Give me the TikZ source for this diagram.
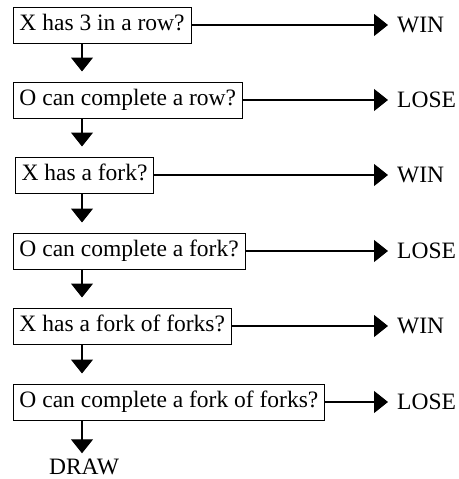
\documentclass[tikz,border=0pt]{standalone}
\usepackage{fontspec}
\setmainfont{Liberation Serif}
\usetikzlibrary{arrows.meta}
\begin{document}
\begin{tikzpicture}[x=1pt,y=-1pt,
  font=\fontsize{23.5}{28}\selectfont,
  question/.style={draw, line width=1pt, anchor=west, minimum height=36pt,
    inner xsep=6.5pt, inner ysep=0pt, text height=16pt, text depth=5pt},
  outcome/.style={anchor=west, inner xsep=9pt, inner ysep=0pt},
  flow/.style={line width=1.2pt, -{Triangle[length=14pt,width=22pt]}}
]
\useasboundingbox (0,0) rectangle (458,479);

% question boxes, left-aligned in one column
\node[question] (q1) at (12.5,25)  {X has 3 in a row?};
\node[question] (q2) at (12.5,100) {O can complete a row?};
\node[question] (q3) at (14.5,175) {X has a fork?};
\node[question] (q4) at (12.5,251) {O can complete a fork?};
\node[question] (q5) at (12.5,326) {X has a fork of forks?};
\node[question] (q6) at (12.5,402) {O can complete a fork of forks?};

% outcomes on the right
\node[outcome] (o1) at (388,25)  {WIN};
\node[outcome] (o2) at (388,100) {LOSE};
\node[outcome] (o3) at (388,175) {WIN};
\node[outcome] (o4) at (388,251) {LOSE};
\node[outcome] (o5) at (388,326) {WIN};
\node[outcome] (o6) at (388,402) {LOSE};

\node[inner sep=0pt, text height=16pt, text depth=5pt] (draw) at (84,469) {DRAW};

% yes-branches
\foreach \i in {1,...,6}
  \draw[flow] (q\i.east) -- (o\i.west);

% no-branches down the column
\foreach \i/\j in {1/2,2/3,3/4,4/5,5/6} {
  \coordinate (s\i) at (82,0 |- q\i.south);
  \coordinate (t\i) at ([yshift=10pt]82,0 |- q\j.north);
  \draw[flow] (s\i) -- (t\i);
}
\coordinate (s6) at (82,0 |- q6.south);
\coordinate (t6) at ([yshift=5pt]82,0 |- draw.north);
\draw[flow] (s6) -- (t6);
\end{tikzpicture}
\end{document}
